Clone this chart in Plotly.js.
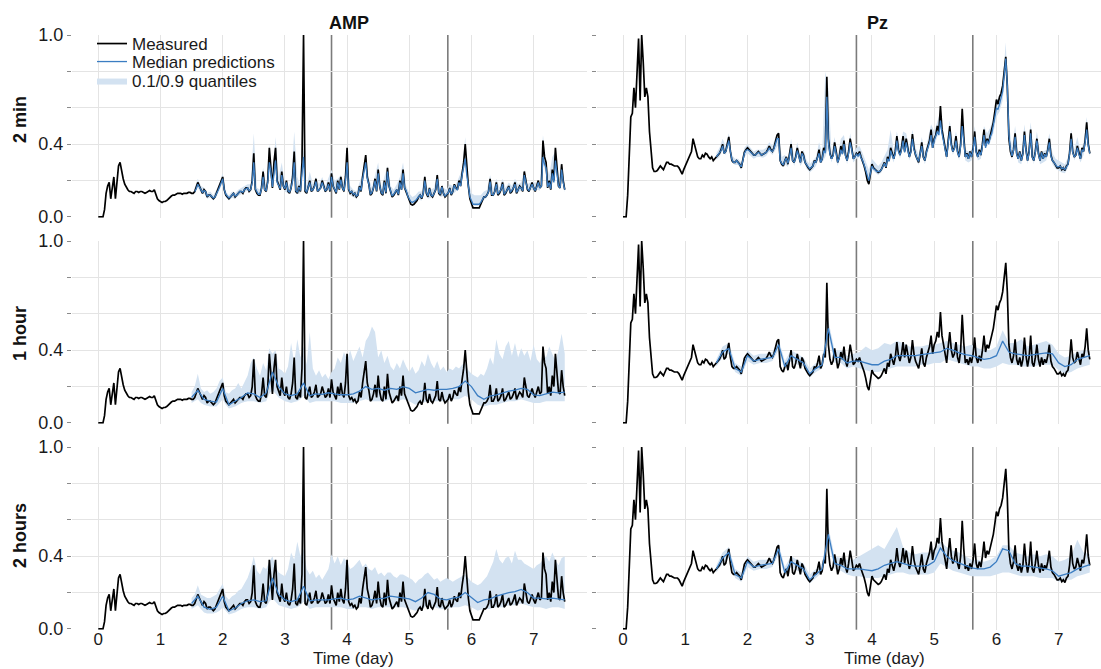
<!DOCTYPE html>
<html>
<head>
<meta charset="utf-8">
<script src="https://cdn.plot.ly/plotly-3.0.1.min.js"></script>
<style>
  html, body { margin: 0; padding: 0; background: #ffffff; }
  #chart { width: 1101px; height: 669px; }
</style>
</head>
<body>
<div id="chart"></div>
<script>
// ---------------------------------------------------------------------------
// Data: normalised signal level. Measured values and 2-minute medians are
// sampled every 0.025 day, 2-minute quantiles and AMP hourly quantiles every
// 0.05 day, the remaining hourly forecasts every 0.1 day.
// ---------------------------------------------------------------------------

const seriesNames = ['AMP', 'Pz'];
const horizonNames = ['2 min', '1 hour', '2 hours'];
const dayTicks = [0, 1, 2, 3, 4, 5, 6, 7];
const dayTickText = ['0', '1', '2', '3', '4', '5', '6', '7'];
const levelTicks = [0, 0.2, 0.4, 0.6, 0.8, 1.0];
const levelTickText = ['0.0', '', '0.4', '', '', '1.0'];
const splitDays = [3.75, 5.62];

// measured AMP, 0.000 .. 7.500 day (one row = 0.25 day)
const ampMeasured = [
  0.00, 0.00, 0.00, 0.00, 0.04, 0.13, 0.17, 0.19, 0.10, 0.16,
  0.22, 0.10, 0.20, 0.28, 0.30, 0.25, 0.21, 0.18, 0.16, 0.15,
  0.14, 0.14, 0.135, 0.13, 0.14, 0.14, 0.135, 0.14, 0.14, 0.135,
  0.13, 0.135, 0.14, 0.145, 0.14, 0.14, 0.15, 0.12, 0.10, 0.09,
  0.085, 0.08, 0.085, 0.085, 0.09, 0.10, 0.11, 0.115, 0.12, 0.12,
  0.125, 0.13, 0.13, 0.13, 0.125, 0.13, 0.13, 0.13, 0.135, 0.135,
  0.13, 0.13, 0.14, 0.16, 0.19, 0.17, 0.15, 0.13, 0.15, 0.14,
  0.11, 0.12, 0.12, 0.11, 0.10, 0.11, 0.13, 0.15, 0.17, 0.20,
  0.22, 0.15, 0.12, 0.11, 0.10, 0.11, 0.12, 0.13, 0.11, 0.12,
  0.13, 0.14, 0.14, 0.13, 0.15, 0.16, 0.16, 0.14, 0.15, 0.20,
  0.35, 0.15, 0.13, 0.12, 0.12, 0.16, 0.25, 0.15, 0.14, 0.20,
  0.38, 0.28, 0.16, 0.30, 0.38, 0.20, 0.18, 0.15, 0.25, 0.17,
  0.15, 0.20, 0.14, 0.13, 0.16, 0.22, 0.36, 0.14, 0.13, 0.17,
  0.14, 0.30, 1.00, 0.14, 0.13, 0.17, 0.20, 0.14, 0.15, 0.17,
  0.21, 0.14, 0.15, 0.16, 0.20, 0.17, 0.14, 0.15, 0.19, 0.14,
  0.24, 0.17, 0.15, 0.13, 0.20, 0.15, 0.22, 0.16, 0.14, 0.22,
  0.38, 0.15, 0.13, 0.14, 0.12, 0.13, 0.11, 0.12, 0.17, 0.14,
  0.22, 0.28, 0.34, 0.22, 0.18, 0.12, 0.13, 0.16, 0.21, 0.14,
  0.26, 0.17, 0.13, 0.12, 0.20, 0.13, 0.27, 0.17, 0.14, 0.11,
  0.12, 0.14, 0.15, 0.12, 0.20, 0.15, 0.26, 0.16, 0.14, 0.11,
  0.09, 0.07, 0.065, 0.07, 0.08, 0.09, 0.11, 0.12, 0.10, 0.13,
  0.22, 0.13, 0.11, 0.16, 0.12, 0.11, 0.13, 0.15, 0.23, 0.13,
  0.12, 0.17, 0.13, 0.11, 0.12, 0.13, 0.16, 0.12, 0.14, 0.18,
  0.16, 0.15, 0.20, 0.17, 0.24, 0.30, 0.40, 0.25, 0.17, 0.10,
  0.07, 0.05, 0.05, 0.05, 0.05, 0.05, 0.07, 0.09, 0.11, 0.11,
  0.12, 0.14, 0.21, 0.12, 0.12, 0.14, 0.19, 0.12, 0.13, 0.15,
  0.19, 0.12, 0.13, 0.15, 0.17, 0.13, 0.14, 0.16, 0.19, 0.13,
  0.15, 0.17, 0.16, 0.14, 0.25, 0.19, 0.15, 0.14, 0.17, 0.19,
  0.16, 0.14, 0.17, 0.20, 0.16, 0.17, 0.42, 0.33, 0.30, 0.16,
  0.20, 0.15, 0.26, 0.20, 0.38, 0.25, 0.17, 0.16, 0.29, 0.20,
  0.15
];

// measured Pz, 0.000 .. 7.500 day
const pzMeasured = [
  0.00, 0.00, 0.00, 0.12, 0.32, 0.55, 0.57, 0.71, 0.60, 0.80,
  0.98, 0.64, 1.00, 0.85, 0.66, 0.71, 0.66, 0.47, 0.34, 0.27,
  0.25, 0.25, 0.255, 0.265, 0.28, 0.27, 0.26, 0.28, 0.30, 0.30,
  0.29, 0.29, 0.285, 0.28, 0.28, 0.28, 0.27, 0.25, 0.235, 0.26,
  0.28, 0.30, 0.31, 0.33, 0.36, 0.43, 0.40, 0.37, 0.33, 0.32,
  0.32, 0.34, 0.33, 0.35, 0.345, 0.33, 0.32, 0.33, 0.31, 0.32,
  0.33, 0.34, 0.35, 0.37, 0.40, 0.35, 0.36, 0.40, 0.44, 0.36,
  0.31, 0.30, 0.30, 0.31, 0.30, 0.29, 0.27, 0.31, 0.355, 0.37,
  0.38, 0.37, 0.36, 0.35, 0.34, 0.34, 0.35, 0.36, 0.35, 0.34,
  0.345, 0.35, 0.355, 0.37, 0.39, 0.37, 0.36, 0.38, 0.41, 0.45,
  0.46, 0.31, 0.29, 0.28, 0.31, 0.33, 0.29, 0.36, 0.40, 0.31,
  0.30, 0.33, 0.38, 0.34, 0.30, 0.36, 0.34, 0.30, 0.28, 0.27,
  0.26, 0.27, 0.28, 0.31, 0.30, 0.33, 0.37, 0.30, 0.32, 0.38,
  0.36, 0.77, 0.43, 0.35, 0.32, 0.34, 0.41, 0.36, 0.30, 0.33,
  0.39, 0.35, 0.42, 0.34, 0.31, 0.36, 0.43, 0.38, 0.32, 0.33,
  0.35, 0.34, 0.36, 0.33, 0.31, 0.28, 0.245, 0.20, 0.18, 0.24,
  0.29, 0.27, 0.26, 0.25, 0.245, 0.25, 0.26, 0.28, 0.30, 0.27,
  0.33, 0.31, 0.38, 0.35, 0.32, 0.36, 0.445, 0.37, 0.34, 0.38,
  0.445, 0.36, 0.43, 0.38, 0.33, 0.36, 0.455, 0.38, 0.34, 0.32,
  0.30, 0.35, 0.41, 0.33, 0.31, 0.36, 0.39, 0.42, 0.48, 0.38,
  0.43, 0.45, 0.50, 0.47, 0.61, 0.48, 0.43, 0.38, 0.33, 0.42,
  0.50, 0.40, 0.36, 0.38, 0.445, 0.36, 0.33, 0.40, 0.595, 0.44,
  0.33, 0.35, 0.32, 0.36, 0.33, 0.38, 0.47, 0.36, 0.33, 0.37,
  0.34, 0.40, 0.48, 0.39, 0.43, 0.41, 0.45, 0.48, 0.52, 0.58,
  0.645, 0.62, 0.66, 0.68, 0.72, 0.80, 0.88, 0.72, 0.43, 0.36,
  0.33, 0.37, 0.46, 0.35, 0.32, 0.36, 0.31, 0.35, 0.47, 0.37,
  0.31, 0.36, 0.48, 0.33, 0.31, 0.36, 0.43, 0.35, 0.31, 0.36,
  0.32, 0.35, 0.33, 0.37, 0.43, 0.34, 0.31, 0.30, 0.28, 0.27,
  0.27, 0.28, 0.26, 0.27, 0.255, 0.28, 0.29, 0.35, 0.46, 0.36,
  0.33, 0.34, 0.39, 0.35, 0.32, 0.38, 0.36, 0.42, 0.52, 0.40,
  0.35
];

// AMP, 2-minute horizon: median 1.550 .. 7.500 day (0.025 step)
const ampMedian2min = [
  0.14, 0.155, 0.18, 0.165, 0.15, 0.135, 0.145, 0.14,
  0.115, 0.12, 0.12, 0.11, 0.105, 0.11, 0.125, 0.145, 0.165, 0.19,
  0.21, 0.15, 0.125, 0.115, 0.105, 0.11, 0.12, 0.13, 0.115, 0.12,
  0.13, 0.14, 0.14, 0.135, 0.15, 0.155, 0.16, 0.145, 0.15, 0.19,
  0.30, 0.155, 0.135, 0.125, 0.125, 0.155, 0.22, 0.15, 0.145, 0.19,
  0.30, 0.25, 0.165, 0.26, 0.31, 0.19, 0.175, 0.155, 0.23, 0.17,
  0.155, 0.19, 0.145, 0.135, 0.16, 0.20, 0.30, 0.145, 0.135, 0.165,
  0.145, 0.25, 0.33, 0.15, 0.135, 0.165, 0.19, 0.145, 0.15, 0.165,
  0.195, 0.145, 0.15, 0.16, 0.19, 0.165, 0.145, 0.15, 0.18, 0.145,
  0.22, 0.17, 0.155, 0.135, 0.19, 0.155, 0.205, 0.16, 0.145, 0.20,
  0.30, 0.155, 0.135, 0.14, 0.125, 0.13, 0.115, 0.12, 0.165, 0.145,
  0.21, 0.25, 0.30, 0.21, 0.18, 0.125, 0.135, 0.16, 0.20, 0.145,
  0.24, 0.17, 0.135, 0.125, 0.19, 0.135, 0.25, 0.17, 0.145, 0.115,
  0.125, 0.14, 0.15, 0.125, 0.19, 0.15, 0.24, 0.16, 0.145, 0.115,
  0.10, 0.085, 0.08, 0.085, 0.09, 0.10, 0.11, 0.12, 0.105, 0.13,
  0.20, 0.135, 0.115, 0.155, 0.12, 0.115, 0.13, 0.15, 0.21, 0.135,
  0.125, 0.165, 0.13, 0.115, 0.125, 0.13, 0.155, 0.125, 0.14, 0.175,
  0.155, 0.15, 0.19, 0.17, 0.23, 0.27, 0.32, 0.23, 0.17, 0.11,
  0.09, 0.07, 0.07, 0.07, 0.07, 0.07, 0.08, 0.095, 0.11, 0.11,
  0.12, 0.14, 0.195, 0.125, 0.12, 0.14, 0.18, 0.125, 0.135, 0.15,
  0.18, 0.125, 0.135, 0.15, 0.165, 0.135, 0.145, 0.16, 0.18, 0.135,
  0.15, 0.165, 0.16, 0.145, 0.23, 0.185, 0.155, 0.145, 0.165, 0.18,
  0.16, 0.145, 0.165, 0.19, 0.16, 0.17, 0.33, 0.29, 0.27, 0.165,
  0.19, 0.155, 0.24, 0.19, 0.31, 0.23, 0.17, 0.16, 0.26, 0.19,
  0.15
];
// AMP, 2-minute horizon: 0.1 / 0.9 quantiles 1.55 .. 7.50 day (0.05 step)
const ampUpper2min = [
  0.16, 0.21, 0.17, 0.16, 0.13, 0.14, 0.12, 0.15, 0.19,
  0.24, 0.14, 0.12, 0.14, 0.13, 0.15, 0.16, 0.17, 0.18, 0.18,
  0.46, 0.16, 0.15, 0.27, 0.17, 0.40, 0.21, 0.44, 0.22, 0.30,
  0.18, 0.17, 0.19, 0.47, 0.22, 0.17, 0.38, 0.17, 0.25, 0.18,
  0.22, 0.18, 0.22, 0.17, 0.21, 0.26, 0.20, 0.21, 0.23, 0.19,
  0.32, 0.17, 0.15, 0.14, 0.19, 0.24, 0.34, 0.21, 0.16, 0.23,
  0.30, 0.16, 0.22, 0.28, 0.17, 0.15, 0.18, 0.22, 0.30, 0.17,
  0.13, 0.11, 0.12, 0.14, 0.14, 0.23, 0.14, 0.15, 0.16, 0.24,
  0.15, 0.16, 0.15, 0.18, 0.17, 0.18, 0.22, 0.26, 0.44, 0.20,
  0.13, 0.12, 0.12, 0.12, 0.14, 0.15, 0.23, 0.15, 0.21, 0.16,
  0.21, 0.16, 0.19, 0.17, 0.21, 0.18, 0.19, 0.26, 0.18, 0.19,
  0.19, 0.19, 0.19, 0.45, 0.30, 0.23, 0.33, 0.36, 0.20, 0.30,
  0.18
];
const ampLower2min = [
  0.125, 0.16, 0.135, 0.13, 0.10, 0.105, 0.09, 0.11, 0.15,
  0.19, 0.11, 0.09, 0.105, 0.10, 0.115, 0.125, 0.135, 0.145, 0.14,
  0.26, 0.125, 0.11, 0.20, 0.13, 0.26, 0.155, 0.27, 0.165, 0.21,
  0.14, 0.13, 0.145, 0.26, 0.125, 0.13, 0.29, 0.125, 0.17, 0.135,
  0.175, 0.135, 0.17, 0.13, 0.16, 0.20, 0.14, 0.165, 0.18, 0.13,
  0.26, 0.12, 0.11, 0.10, 0.15, 0.19, 0.27, 0.165, 0.12, 0.18,
  0.22, 0.12, 0.17, 0.23, 0.13, 0.11, 0.135, 0.17, 0.22, 0.13,
  0.09, 0.07, 0.08, 0.095, 0.09, 0.18, 0.10, 0.105, 0.115, 0.19,
  0.11, 0.115, 0.11, 0.14, 0.125, 0.14, 0.17, 0.21, 0.29, 0.155,
  0.08, 0.06, 0.06, 0.07, 0.095, 0.105, 0.175, 0.11, 0.165, 0.12,
  0.165, 0.12, 0.15, 0.13, 0.165, 0.135, 0.145, 0.21, 0.14, 0.15,
  0.145, 0.15, 0.145, 0.29, 0.24, 0.18, 0.22, 0.28, 0.155, 0.24,
  0.135
];

// Pz, 2-minute horizon: median 1.500 .. 7.500 day (0.025 step)
const pzMedian2min = [
  0.33, 0.34, 0.35, 0.365, 0.39, 0.35, 0.36, 0.39, 0.42, 0.36,
  0.315, 0.30, 0.30, 0.31, 0.30, 0.29, 0.275, 0.31, 0.35, 0.365,
  0.37, 0.365, 0.355, 0.35, 0.34, 0.34, 0.35, 0.355, 0.35, 0.34,
  0.345, 0.35, 0.355, 0.365, 0.38, 0.365, 0.36, 0.375, 0.40, 0.43,
  0.43, 0.31, 0.295, 0.285, 0.31, 0.325, 0.295, 0.35, 0.38, 0.31,
  0.30, 0.325, 0.365, 0.335, 0.30, 0.35, 0.335, 0.30, 0.285, 0.275,
  0.265, 0.275, 0.28, 0.305, 0.30, 0.325, 0.35, 0.30, 0.32, 0.365,
  0.35, 0.66, 0.41, 0.345, 0.32, 0.335, 0.39, 0.35, 0.30, 0.325,
  0.37, 0.345, 0.40, 0.335, 0.31, 0.35, 0.41, 0.37, 0.32, 0.33,
  0.345, 0.335, 0.35, 0.325, 0.31, 0.285, 0.255, 0.215, 0.20, 0.24,
  0.28, 0.265, 0.26, 0.25, 0.25, 0.25, 0.26, 0.275, 0.295, 0.275,
  0.32, 0.305, 0.365, 0.34, 0.32, 0.35, 0.42, 0.36, 0.34, 0.37,
  0.42, 0.355, 0.41, 0.37, 0.33, 0.355, 0.43, 0.37, 0.34, 0.32,
  0.305, 0.345, 0.39, 0.33, 0.31, 0.355, 0.38, 0.41, 0.45, 0.38,
  0.42, 0.44, 0.47, 0.45, 0.53, 0.46, 0.42, 0.38, 0.33, 0.41,
  0.47, 0.39, 0.36, 0.375, 0.42, 0.355, 0.33, 0.39, 0.50, 0.42,
  0.33, 0.345, 0.32, 0.355, 0.33, 0.37, 0.44, 0.355, 0.33, 0.36,
  0.34, 0.39, 0.45, 0.38, 0.42, 0.40, 0.44, 0.46, 0.50, 0.55,
  0.60, 0.59, 0.62, 0.65, 0.69, 0.78, 0.87, 0.72, 0.45, 0.37,
  0.335, 0.365, 0.44, 0.345, 0.32, 0.355, 0.31, 0.345, 0.45, 0.365,
  0.31, 0.355, 0.46, 0.33, 0.31, 0.355, 0.42, 0.345, 0.31, 0.355,
  0.32, 0.345, 0.33, 0.365, 0.41, 0.335, 0.31, 0.30, 0.285, 0.275,
  0.275, 0.28, 0.265, 0.27, 0.26, 0.28, 0.29, 0.345, 0.43, 0.355,
  0.33, 0.34, 0.38, 0.345, 0.32, 0.37, 0.36, 0.41, 0.48, 0.39,
  0.35
];
// Pz, 2-minute horizon: 0.1 / 0.9 quantiles 1.50 .. 7.50 day (0.05 step)
const pzUpper2min = [
  0.35, 0.38, 0.43, 0.39, 0.46, 0.34, 0.32, 0.32, 0.30, 0.38,
  0.40, 0.38, 0.36, 0.37, 0.37, 0.37, 0.38, 0.41, 0.39, 0.44,
  0.47, 0.33, 0.34, 0.32, 0.43, 0.33, 0.41, 0.33, 0.37, 0.31,
  0.29, 0.31, 0.33, 0.41, 0.35, 0.80, 0.70, 0.35, 0.44, 0.33,
  0.43, 0.45, 0.34, 0.46, 0.35, 0.38, 0.39, 0.35, 0.30, 0.26,
  0.32, 0.30, 0.28, 0.30, 0.34, 0.37, 0.48, 0.36, 0.47, 0.38,
  0.47, 0.46, 0.37, 0.48, 0.38, 0.34, 0.44, 0.35, 0.43, 0.51,
  0.47, 0.53, 0.58, 0.47, 0.37, 0.53, 0.40, 0.47, 0.37, 0.56,
  0.37, 0.36, 0.37, 0.50, 0.37, 0.38, 0.50, 0.46, 0.49, 0.55,
  0.64, 0.66, 0.74, 0.96, 0.52, 0.38, 0.50, 0.36, 0.35, 0.51,
  0.35, 0.52, 0.35, 0.47, 0.35, 0.36, 0.37, 0.46, 0.35, 0.32,
  0.31, 0.30, 0.29, 0.33, 0.48, 0.37, 0.44, 0.36, 0.41, 0.55,
  0.39
];
const pzLower2min = [
  0.315, 0.33, 0.37, 0.34, 0.39, 0.30, 0.285, 0.285, 0.26, 0.33,
  0.35, 0.335, 0.32, 0.33, 0.33, 0.325, 0.335, 0.36, 0.34, 0.37,
  0.40, 0.28, 0.29, 0.275, 0.35, 0.28, 0.34, 0.28, 0.31, 0.265,
  0.245, 0.26, 0.28, 0.33, 0.30, 0.33, 0.38, 0.30, 0.36, 0.28,
  0.35, 0.37, 0.29, 0.38, 0.30, 0.32, 0.33, 0.29, 0.235, 0.195,
  0.26, 0.245, 0.23, 0.245, 0.28, 0.30, 0.34, 0.30, 0.39, 0.32,
  0.39, 0.38, 0.31, 0.40, 0.32, 0.285, 0.36, 0.29, 0.355, 0.42,
  0.39, 0.44, 0.49, 0.39, 0.31, 0.44, 0.34, 0.39, 0.31, 0.46,
  0.31, 0.30, 0.31, 0.41, 0.31, 0.32, 0.42, 0.39, 0.41, 0.46,
  0.55, 0.58, 0.64, 0.80, 0.42, 0.315, 0.41, 0.30, 0.29, 0.42,
  0.29, 0.43, 0.29, 0.39, 0.29, 0.30, 0.31, 0.38, 0.29, 0.265,
  0.255, 0.245, 0.24, 0.27, 0.40, 0.31, 0.35, 0.30, 0.34, 0.44,
  0.33
];

// AMP, 1-hour horizon: median 1.5 .. 7.5 day (0.1 step)
const ampMedian1h = [
  0.14, 0.18, 0.13, 0.12, 0.115, 0.19, 0.10, 0.12, 0.14, 0.165,
  0.16, 0.14, 0.165, 0.28, 0.20, 0.16, 0.15, 0.16, 0.22, 0.15,
  0.16, 0.157, 0.166, 0.16, 0.155, 0.155, 0.16, 0.175, 0.20, 0.185,
  0.19, 0.18, 0.19, 0.185, 0.20, 0.19, 0.166, 0.175, 0.185, 0.18,
  0.185, 0.185, 0.19, 0.20, 0.23, 0.20, 0.15, 0.13, 0.148, 0.155,
  0.166, 0.175, 0.18, 0.19, 0.185, 0.155, 0.15, 0.16, 0.17, 0.165,
  0.17
];
// AMP, 1-hour horizon: quantiles 1.50 .. 7.50 day (0.05 step)
const ampUpper1h = [
  0.17, 0.20, 0.27, 0.19, 0.17, 0.18, 0.16, 0.17, 0.19, 0.23,
  0.25, 0.17, 0.16, 0.18, 0.19, 0.22, 0.19, 0.23, 0.26, 0.33,
  0.36, 0.30, 0.26, 0.33, 0.29, 0.41, 0.38, 0.40, 0.30, 0.29,
  0.27, 0.31, 0.44, 0.33, 0.46, 0.36, 0.42, 0.32, 0.50, 0.30,
  0.26, 0.29, 0.25, 0.27, 0.24, 0.28, 0.30, 0.36, 0.33, 0.39,
  0.35, 0.40, 0.34, 0.38, 0.42, 0.36, 0.45, 0.48, 0.53, 0.50,
  0.36, 0.40, 0.33, 0.37, 0.31, 0.29, 0.33, 0.30, 0.35, 0.31,
  0.28, 0.31, 0.27, 0.29, 0.34, 0.31, 0.38, 0.33, 0.30, 0.34,
  0.29, 0.31, 0.28, 0.30, 0.29, 0.31, 0.30, 0.32, 0.33, 0.29,
  0.27, 0.26, 0.25, 0.27, 0.26, 0.30, 0.36, 0.32, 0.46, 0.38,
  0.35, 0.42, 0.45, 0.37, 0.44, 0.36, 0.41, 0.37, 0.40, 0.34,
  0.43, 0.35, 0.33, 0.38, 0.36, 0.42, 0.38, 0.34, 0.40, 0.49,
  0.38
];
const ampLower1h = [
  0.11, 0.12, 0.13, 0.11, 0.10, 0.095, 0.09, 0.09, 0.09, 0.11,
  0.13, 0.10, 0.08, 0.085, 0.09, 0.10, 0.11, 0.115, 0.12, 0.12,
  0.12, 0.115, 0.11, 0.115, 0.12, 0.16, 0.18, 0.16, 0.14, 0.13,
  0.12, 0.115, 0.11, 0.115, 0.12, 0.13, 0.15, 0.13, 0.11, 0.115,
  0.12, 0.12, 0.12, 0.12, 0.12, 0.12, 0.12, 0.115, 0.11, 0.11,
  0.11, 0.11, 0.11, 0.115, 0.12, 0.125, 0.13, 0.125, 0.12, 0.12,
  0.12, 0.12, 0.12, 0.125, 0.13, 0.125, 0.12, 0.125, 0.13, 0.125,
  0.12, 0.11, 0.10, 0.105, 0.11, 0.115, 0.12, 0.12, 0.12, 0.12,
  0.12, 0.12, 0.12, 0.125, 0.13, 0.13, 0.13, 0.14, 0.15, 0.14,
  0.13, 0.115, 0.10, 0.095, 0.09, 0.095, 0.10, 0.10, 0.10, 0.105,
  0.11, 0.115, 0.12, 0.12, 0.12, 0.125, 0.13, 0.125, 0.12, 0.115,
  0.11, 0.11, 0.11, 0.115, 0.12, 0.12, 0.12, 0.12, 0.12, 0.12,
  0.12
];

// AMP, 2-hour horizon: median 1.5 .. 7.5 day (0.1 step)
const ampMedian2h = [
  0.14, 0.18, 0.12, 0.108, 0.12, 0.18, 0.10, 0.115, 0.14, 0.155,
  0.16, 0.15, 0.155, 0.28, 0.19, 0.16, 0.15, 0.16, 0.235, 0.155,
  0.16, 0.16, 0.16, 0.165, 0.17, 0.16, 0.165, 0.18, 0.17, 0.16,
  0.165, 0.17, 0.18, 0.175, 0.17, 0.165, 0.15, 0.17, 0.20, 0.19,
  0.165, 0.16, 0.17, 0.175, 0.20, 0.17, 0.145, 0.16, 0.165, 0.18,
  0.19, 0.20, 0.205, 0.217, 0.20, 0.17, 0.17, 0.165, 0.17, 0.165,
  0.16
];
// AMP, 2-hour horizon: quantiles 1.50 .. 7.50 day (0.05 step)
const ampUpper2h = [
  0.17, 0.19, 0.24, 0.19, 0.18, 0.17, 0.17, 0.18, 0.19, 0.22,
  0.25, 0.18, 0.16, 0.18, 0.19, 0.21, 0.22, 0.25, 0.28, 0.33,
  0.40, 0.32, 0.30, 0.34, 0.33, 0.37, 0.40, 0.34, 0.31, 0.30,
  0.29, 0.33, 0.42, 0.38, 0.48, 0.40, 0.44, 0.33, 0.30, 0.32,
  0.28, 0.30, 0.27, 0.30, 0.33, 0.41, 0.36, 0.40, 0.35, 0.39,
  0.37, 0.33, 0.34, 0.36, 0.38, 0.34, 0.36, 0.33, 0.32, 0.34,
  0.30, 0.31, 0.29, 0.31, 0.31, 0.29, 0.28, 0.30, 0.30, 0.29,
  0.28, 0.27, 0.25, 0.27, 0.28, 0.30, 0.31, 0.29, 0.27, 0.28,
  0.26, 0.27, 0.28, 0.27, 0.26, 0.27, 0.28, 0.29, 0.30, 0.28,
  0.26, 0.25, 0.24, 0.25, 0.27, 0.29, 0.33, 0.37, 0.44, 0.38,
  0.36, 0.39, 0.40, 0.36, 0.43, 0.38, 0.38, 0.36, 0.35, 0.34,
  0.33, 0.35, 0.36, 0.38, 0.40, 0.37, 0.42, 0.38, 0.35, 0.39,
  0.40
];
const ampLower2h = [
  0.11, 0.12, 0.13, 0.11, 0.09, 0.085, 0.085, 0.085, 0.09, 0.10,
  0.12, 0.10, 0.08, 0.085, 0.09, 0.10, 0.11, 0.115, 0.12, 0.12,
  0.12, 0.115, 0.11, 0.115, 0.12, 0.15, 0.17, 0.15, 0.13, 0.125,
  0.12, 0.115, 0.11, 0.115, 0.12, 0.13, 0.15, 0.13, 0.11, 0.115,
  0.12, 0.12, 0.12, 0.12, 0.12, 0.12, 0.12, 0.12, 0.12, 0.115,
  0.11, 0.11, 0.11, 0.115, 0.12, 0.12, 0.12, 0.115, 0.11, 0.115,
  0.12, 0.12, 0.12, 0.12, 0.12, 0.12, 0.12, 0.12, 0.12, 0.115,
  0.11, 0.105, 0.10, 0.105, 0.11, 0.12, 0.13, 0.125, 0.12, 0.115,
  0.11, 0.11, 0.11, 0.115, 0.12, 0.12, 0.12, 0.125, 0.13, 0.125,
  0.12, 0.11, 0.10, 0.105, 0.11, 0.11, 0.11, 0.115, 0.12, 0.12,
  0.12, 0.125, 0.13, 0.13, 0.13, 0.135, 0.14, 0.135, 0.13, 0.125,
  0.12, 0.12, 0.12, 0.115, 0.11, 0.115, 0.12, 0.12, 0.12, 0.115,
  0.11
];

// Pz, 1-hour horizon, 1.5 .. 7.5 day (0.1 step)
const pzMedian1h = [
  0.33, 0.39, 0.41, 0.30, 0.28, 0.37, 0.34, 0.35, 0.355, 0.36,
  0.43, 0.31, 0.37, 0.35, 0.33, 0.27, 0.30, 0.32, 0.52, 0.36,
  0.36, 0.33, 0.34, 0.34, 0.33, 0.32, 0.32, 0.34, 0.35, 0.37,
  0.37, 0.37, 0.37, 0.375, 0.38, 0.385, 0.39, 0.41, 0.40, 0.385,
  0.375, 0.37, 0.36, 0.35, 0.355, 0.37, 0.45, 0.39, 0.38, 0.375,
  0.37, 0.375, 0.38, 0.385, 0.38, 0.33, 0.31, 0.32, 0.35, 0.36,
  0.37
];
const pzUpper1h = [
  0.35, 0.42, 0.44, 0.33, 0.31, 0.40, 0.37, 0.38, 0.38, 0.39,
  0.46, 0.34, 0.40, 0.38, 0.36, 0.30, 0.33, 0.35, 0.56, 0.40,
  0.40, 0.37, 0.38, 0.39, 0.42, 0.40, 0.41, 0.44, 0.43, 0.45,
  0.44, 0.42, 0.42, 0.42, 0.43, 0.43, 0.44, 0.45, 0.44, 0.43,
  0.42, 0.43, 0.41, 0.40, 0.40, 0.42, 0.51, 0.44, 0.44, 0.46,
  0.42, 0.43, 0.44, 0.45, 0.43, 0.38, 0.36, 0.37, 0.39, 0.40,
  0.40
];
const pzLower1h = [
  0.31, 0.36, 0.38, 0.28, 0.26, 0.34, 0.32, 0.33, 0.33, 0.34,
  0.40, 0.29, 0.34, 0.32, 0.31, 0.25, 0.28, 0.30, 0.48, 0.33,
  0.33, 0.30, 0.31, 0.30, 0.29, 0.28, 0.28, 0.29, 0.30, 0.31,
  0.31, 0.31, 0.31, 0.32, 0.32, 0.33, 0.33, 0.35, 0.34, 0.33,
  0.32, 0.31, 0.31, 0.30, 0.30, 0.31, 0.33, 0.32, 0.32, 0.31,
  0.31, 0.31, 0.32, 0.32, 0.32, 0.29, 0.27, 0.28, 0.30, 0.31,
  0.32
];

// Pz, 2-hour horizon, 1.5 .. 7.5 day (0.1 step)
const pzMedian2h = [
  0.33, 0.39, 0.42, 0.30, 0.28, 0.37, 0.34, 0.35, 0.355, 0.36,
  0.44, 0.31, 0.37, 0.35, 0.33, 0.27, 0.30, 0.33, 0.52, 0.36,
  0.35, 0.33, 0.33, 0.33, 0.325, 0.32, 0.33, 0.35, 0.36, 0.37,
  0.36, 0.35, 0.345, 0.345, 0.35, 0.37, 0.445, 0.40, 0.375, 0.363,
  0.35, 0.336, 0.33, 0.33, 0.34, 0.37, 0.44, 0.43, 0.36, 0.345,
  0.345, 0.34, 0.335, 0.33, 0.32, 0.29, 0.30, 0.31, 0.33, 0.34,
  0.354
];
const pzUpper2h = [
  0.35, 0.42, 0.45, 0.33, 0.31, 0.40, 0.37, 0.38, 0.38, 0.39,
  0.47, 0.34, 0.40, 0.38, 0.36, 0.30, 0.33, 0.36, 0.56, 0.40,
  0.39, 0.38, 0.38, 0.40, 0.42, 0.44, 0.46, 0.44, 0.50, 0.56,
  0.45, 0.42, 0.41, 0.42, 0.42, 0.44, 0.48, 0.45, 0.43, 0.42,
  0.40, 0.38, 0.38, 0.37, 0.38, 0.40, 0.46, 0.46, 0.42, 0.41,
  0.40, 0.41, 0.40, 0.41, 0.40, 0.37, 0.38, 0.40, 0.49, 0.42,
  0.41
];
const pzLower2h = [
  0.31, 0.36, 0.39, 0.28, 0.26, 0.34, 0.32, 0.33, 0.33, 0.34,
  0.41, 0.29, 0.34, 0.32, 0.31, 0.25, 0.28, 0.31, 0.48, 0.33,
  0.32, 0.30, 0.29, 0.29, 0.28, 0.28, 0.28, 0.29, 0.30, 0.31,
  0.31, 0.30, 0.30, 0.30, 0.30, 0.31, 0.36, 0.34, 0.32, 0.31,
  0.30, 0.29, 0.29, 0.29, 0.29, 0.30, 0.31, 0.31, 0.30, 0.29,
  0.29, 0.29, 0.28, 0.28, 0.28, 0.26, 0.27, 0.27, 0.29, 0.30,
  0.31
];

// ---------------------------------------------------------------------------
// Sampling grids
// ---------------------------------------------------------------------------
function sampleDays(start, step, count) {
  return Array.from({ length: count }, (_, i) => Math.round((start + i * step) * 1000) / 1000);
}
const measuredDays = sampleDays(0, 0.025, ampMeasured.length);
const ampMedianDays2min = sampleDays(1.55, 0.025, ampMedian2min.length);
const pzMedianDays2min = sampleDays(1.50, 0.025, pzMedian2min.length);
const ampBandDays2min = sampleDays(1.55, 0.05, ampUpper2min.length);
const pzBandDays2min = sampleDays(1.50, 0.05, pzUpper2min.length);
const ampBandDaysHourly = sampleDays(1.50, 0.05, ampUpper1h.length);
const hourlyDays = sampleDays(1.5, 0.1, ampMedian1h.length);

const panels = [
  [
    { measured: ampMeasured, medianDays: ampMedianDays2min, median: ampMedian2min,
      bandDays: ampBandDays2min, lower: ampLower2min, upper: ampUpper2min },
    { measured: pzMeasured, medianDays: pzMedianDays2min, median: pzMedian2min,
      bandDays: pzBandDays2min, lower: pzLower2min, upper: pzUpper2min }
  ],
  [
    { measured: ampMeasured, medianDays: hourlyDays, median: ampMedian1h,
      bandDays: ampBandDaysHourly, lower: ampLower1h, upper: ampUpper1h },
    { measured: pzMeasured, medianDays: hourlyDays, median: pzMedian1h,
      bandDays: hourlyDays, lower: pzLower1h, upper: pzUpper1h }
  ],
  [
    { measured: ampMeasured, medianDays: hourlyDays, median: ampMedian2h,
      bandDays: ampBandDaysHourly, lower: ampLower2h, upper: ampUpper2h },
    { measured: pzMeasured, medianDays: hourlyDays, median: pzMedian2h,
      bandDays: hourlyDays, lower: pzLower2h, upper: pzUpper2h }
  ]
];

// ---------------------------------------------------------------------------
// Geometry (pixels of the 1101 x 669 canvas)
// ---------------------------------------------------------------------------
const W = 1101, H = 669;
const fx = v => v / W;
const fy = v => 1 - v / H;

const colDomains = [[fx(72), fx(587)], [fx(597), 1]];
const colRanges = [[-0.423, 7.858], [-0.418, 7.68]];
const rowPx = [[35, 217.7], [241, 423.7], [447, 629.7]];
const rowDomains = rowPx.map(([top, bottom]) => [fy(bottom), fy(top)]);

const FONT = 'Liberation Sans, Arial, Helvetica, sans-serif';
const INK = '#1a1a1a';
const GRID = '#e4e4e4';
const BAND = '#d3e2f1';
const BLUE = '#3b7dc2';

// one legend box per entry so the rows sit close together
function legendBox(yPx) {
  return {
    x: fx(92), y: fy(yPx), xanchor: 'left', yanchor: 'middle',
    bgcolor: 'rgba(0,0,0,0)', borderwidth: 0, itemwidth: 30,
    font: { family: FONT, size: 17, color: INK }
  };
}

const traces = [];
const layout = {
  width: W,
  height: H,
  margin: { l: 0, r: 0, t: 0, b: 0 },
  paper_bgcolor: '#ffffff',
  plot_bgcolor: '#ffffff',
  font: { family: FONT, size: 18, color: INK },
  showlegend: true,
  legend: legendBox(44),
  legend2: legendBox(62),
  legend3: legendBox(81),
  shapes: [],
  annotations: []
};

panels.forEach((row, r) => {
  row.forEach((p, c) => {
    const k = r * 2 + c + 1;
    const suffix = k === 1 ? '' : String(k);
    const xa = 'x' + suffix, ya = 'y' + suffix;
    const first = k === 1;

    traces.push({
      x: p.bandDays, y: p.lower, xaxis: xa, yaxis: ya,
      type: 'scatter', mode: 'lines', line: { width: 0, color: BAND },
      showlegend: false, hoverinfo: 'skip', legend: 'legend3'
    });
    traces.push({
      x: p.bandDays, y: p.upper, xaxis: xa, yaxis: ya,
      type: 'scatter', mode: 'lines', fill: 'tonexty', fillcolor: BAND,
      line: { width: 0, color: BAND },
      name: '0.1/0.9 quantiles', legend: 'legend3', showlegend: first, hoverinfo: 'skip'
    });
    traces.push({
      x: measuredDays, y: p.measured, xaxis: xa, yaxis: ya,
      type: 'scatter', mode: 'lines', line: { width: 1.7, color: '#000000' },
      name: 'Measured', legend: 'legend', showlegend: first
    });
    traces.push({
      x: p.medianDays, y: p.median, xaxis: xa, yaxis: ya,
      type: 'scatter', mode: 'lines', line: { width: 1.3, color: BLUE },
      name: 'Median predictions', legend: 'legend2', showlegend: first
    });

    layout['xaxis' + suffix] = {
      domain: colDomains[c], range: colRanges[c], anchor: ya,
      tickvals: dayTicks, ticktext: dayTickText,
      showticklabels: r === 2, ticks: '', ticklabelstandoff: -3,
      tickfont: { family: FONT, size: 17, color: INK },
      showgrid: true, gridcolor: GRID, gridwidth: 1,
      zeroline: false, showline: false
    };
    layout['yaxis' + suffix] = {
      domain: rowDomains[r], range: [-0.004, 1.0], anchor: xa,
      tickvals: levelTicks, ticktext: levelTickText,
      showticklabels: c === 0,
      ticks: 'outside', ticklen: 4, tickwidth: 1, tickcolor: '#8a8a8a',
      tickfont: { family: FONT, size: 18, color: INK },
      showgrid: true, gridcolor: GRID, gridwidth: 1,
      zeroline: false, showline: false
    };

    splitDays.forEach(d => {
      layout.shapes.push({
        type: 'line', xref: xa, yref: ya + ' domain',
        x0: d, x1: d, y0: 0, y1: 1,
        line: { color: '#7b7b7b', width: 1.6 }, layer: 'below'
      });
    });
  });
});

// column titles
const titleX = [fx(349), fx(877)];
seriesNames.forEach((name, c) => {
  layout.annotations.push({
    text: '<b>' + name + '</b>', xref: 'paper', yref: 'paper',
    x: titleX[c], y: fy(23), xanchor: 'center', yanchor: 'middle',
    showarrow: false, font: { family: FONT, size: 18, color: '#111111' }
  });
});

// row labels
const rowLabelY = [120, 334, 536];
horizonNames.forEach((name, r) => {
  layout.annotations.push({
    text: '<b>' + name + '</b>', xref: 'paper', yref: 'paper',
    x: fx(20), y: fy(rowLabelY[r]), xanchor: 'center', yanchor: 'middle',
    textangle: -90, showarrow: false,
    font: { family: FONT, size: 18, color: '#111111' }
  });
});

// x axis captions under the bottom row
const captionX = [fx(354), fx(884)];
captionX.forEach(x => {
  layout.annotations.push({
    text: 'Time (day)', xref: 'paper', yref: 'paper',
    x: x, y: 0, xanchor: 'center', yanchor: 'bottom',
    showarrow: false, borderpad: 0,
    font: { family: FONT, size: 17, color: INK }
  });
});

Plotly.newPlot('chart', traces, layout, { displayModeBar: false, responsive: false });
</script>
</body>
</html>
